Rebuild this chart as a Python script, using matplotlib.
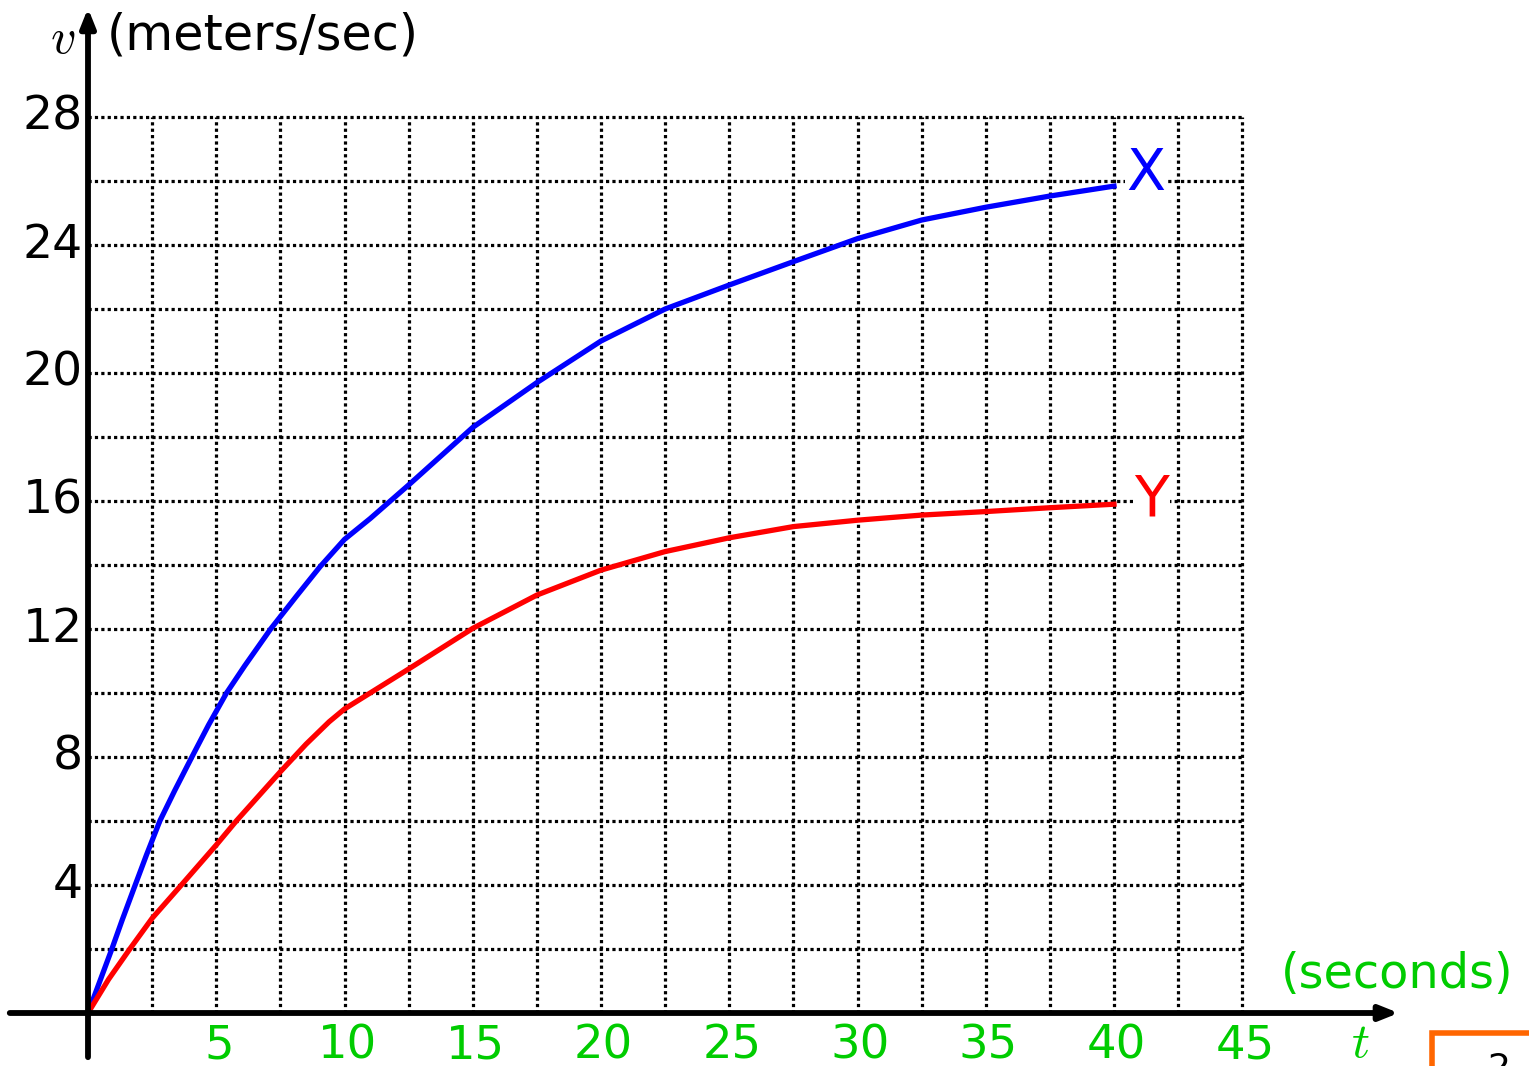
import numpy as np
import matplotlib.pyplot as plt

plt.rcParams['mathtext.fontset'] = 'cm'
plt.rcParams['font.family'] = ['DejaVu Sans']

# -----------------------
# data
# -----------------------
t_x = [0, 0.93, 1.33, 1.84, 2.28, 2.8, 3.38, 4.05, 4.7, 5.4, 6.11, 7.12,
       8.12, 9.05, 10, 11.0, 12.5, 15, 17.5, 20, 22.5, 25, 27.5, 30,
       32.5, 35, 37.5, 40]
v_x = [0, 2, 2.9, 4, 4.94, 6, 6.95, 8, 9.0, 10, 10.85, 12,
       13.02, 13.95, 14.8, 15.45, 16.5, 18.3, 19.7, 21.0, 22.0, 22.75, 23.48, 24.2,
       24.78, 25.18, 25.53, 25.84]

t_y = [0, 0.8, 1.63, 2.5, 3.64, 5, 5.78, 7.5, 8.5, 9.4, 10, 11, 12.5, 15,
       17.5, 20, 22.5, 25, 27.5, 30, 32.5, 35, 37.5, 40]
v_y = [0, 1.05, 2, 2.96, 4, 5.25, 6, 7.54, 8.4, 9.1, 9.5, 10.0, 10.75, 12.02,
       13.06, 13.84, 14.42, 14.85, 15.2, 15.4, 15.56, 15.67, 15.79, 15.9]

x_ticks = [5, 10, 15, 20, 25, 30, 35, 40, 45]
y_ticks = [4, 8, 12, 16, 20, 24, 28]
x_grid = np.arange(2.5, 45.01, 2.5)
y_grid = np.arange(2, 28.01, 2)

GREEN = '#00cc00'
T_MAX, V_MAX = 45, 28

# -----------------------
# figure: one axes over the whole canvas
# -----------------------
fig = plt.figure(figsize=(15.29, 10.66), dpi=100)
ax = fig.add_axes([0, 0, 1, 1])
ax.set_xlim(-88 / 25.65, (1529 - 88) / 25.65)
ax.set_ylim((1013 - 1066) / 32.0, 1013 / 32.0)
ax.axis('off')

# dotted grid
dots = (0, (1, 1))
for v in y_grid:
    ax.plot([0, T_MAX], [v, v], color='k', lw=2.3, linestyle=dots, zorder=1)
for t in x_grid:
    ax.plot([t, t], [0, V_MAX], color='k', lw=2.3, linestyle=dots, zorder=1)

# curves
ax.plot(t_x, v_x, color='#0000ff', lw=3.8, solid_joinstyle='round', zorder=3)
ax.plot(t_y, v_y, color='#ff0000', lw=3.8, solid_joinstyle='round', zorder=3)

# axes with arrows
arrow = dict(arrowstyle='-|>,head_length=0.55,head_width=0.22', lw=4.2,
             color='k', mutation_scale=20, shrinkA=0, shrinkB=0)
ax.annotate('', xy=(51.1, 0), xytext=(-3.05, 0), arrowprops=arrow, zorder=4)
ax.annotate('', xy=(0, 31.4), xytext=(0, -1.38), arrowprops=arrow, zorder=4)

# tick labels
for t in x_ticks:
    ax.text(t + 0.1, -1.02, str(t), color=GREEN, fontsize=33.5,
            ha='center', va='center')
for v in y_ticks:
    ax.text(-0.2, v, str(v), color='k', fontsize=34, ha='right', va='center')

# axis titles
ax.text(-1.0, 30.45, '$v$', fontsize=36, ha='center', va='center')
ax.text(0.72, 30.55, '(meters/sec)', fontsize=35.5, ha='left', va='center')
ax.text(49.6, -0.95, '$t$', fontsize=36, color=GREEN, ha='center', va='center')
ax.text(51.05, 1.2, '(seconds)', fontsize=34.5, color=GREEN, ha='center', va='center')

# curve names
box = dict(facecolor='white', edgecolor='none', pad=1)
ax.text(41.25, 26.2, 'X', fontsize=41, color='#0000ff', ha='center',
        va='center', bbox=box, zorder=2)
ax.text(41.45, 16.0, 'Y', fontsize=41, color='#ff0000', ha='center',
        va='center', bbox=box, zorder=2)

# page number box clipped at the corner
ax.plot([0.9366, 0.9366, 1.0], [0.0, 0.0305, 0.0305], color='#ff6600',
        lw=4, transform=ax.transAxes, solid_joinstyle='miter', clip_on=False)
ax.text(0.9805, 0.013, '2', fontsize=26, color='k', ha='center', va='top',
        transform=ax.transAxes)

fig.savefig('out.png', dpi=100)
